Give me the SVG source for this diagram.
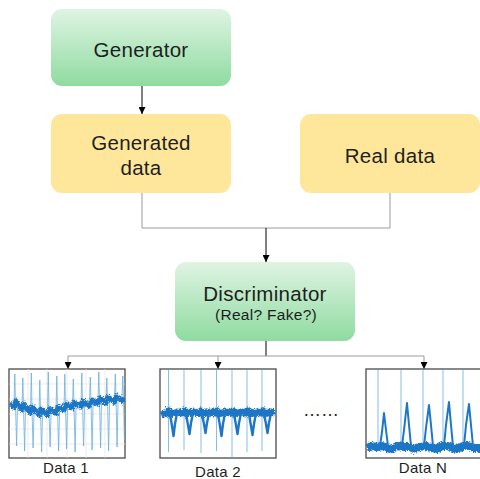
<svg xmlns="http://www.w3.org/2000/svg" width="480" height="479" viewBox="0 0 480 479">
<style>
.t{font-family:"Liberation Sans",Arial,sans-serif;fill:#1e1e1e;text-anchor:middle;letter-spacing:0.3px}
.big{font-size:20.5px}
.sub{font-size:15.5px}
.lbl{font-size:15px}
.box{stroke:none}
.chart{fill:#fff;stroke:#4a4a4a;stroke-width:1.3}
.grid{stroke:#e4e4e4;stroke-width:0.7;fill:none}
.spk{stroke:#6aaee2;stroke-width:0.9;fill:none;opacity:0.9}
.band{stroke:#1f76c6;fill:none;stroke-linejoin:round}
.bl{stroke:#000;stroke-width:1;fill:none}
.gl{stroke:#9a9a9a;stroke-width:1;fill:none}
</style>
<defs>
<linearGradient id="gg" x1="0" y1="0" x2="0" y2="1">
<stop offset="0" stop-color="#dff4e3"/>
<stop offset="1" stop-color="#8fdba0"/>
</linearGradient>
<marker id="ah" viewBox="0 0 8 8" refX="8" refY="4" markerWidth="7" markerHeight="7" markerUnits="userSpaceOnUse" orient="auto">
<path d="M0,0 L8,4 L0,8 Z" fill="#000"/>
</marker>
<filter id="nz" filterUnits="userSpaceOnUse" x="0" y="360" width="480" height="110">
<feTurbulence type="fractalNoise" baseFrequency="0.75" numOctaves="2" seed="4" result="n"/>
<feDisplacementMap in="SourceGraphic" in2="n" scale="5" xChannelSelector="R" yChannelSelector="G"/>
</filter>
<clipPath id="c1"><rect x="9" y="369" width="116" height="89"/></clipPath>
<clipPath id="c2"><rect x="160" y="369" width="116" height="89"/></clipPath>
<clipPath id="c3"><rect x="366" y="369" width="116" height="89"/></clipPath>
</defs>

<g id="connectors">
<path class="bl" d="M142,86 V114" marker-end="url(#ah)"/>
<path class="gl" d="M142,193 V228 H390 V193"/>
<path class="bl" d="M266,228 V262" marker-end="url(#ah)"/>
<path class="bl" d="M266,341 V356"/>
<path class="gl" d="M68,356 H424"/>
<path class="gl" d="M68,356 V369" marker-end="url(#ah)"/>
<path class="gl" d="M218,356 V369" marker-end="url(#ah)"/>
<path class="gl" d="M424,356 V369" marker-end="url(#ah)"/>
</g>

<g id="generator">
<rect class="box" x="51" y="9" width="180" height="77" rx="11" fill="url(#gg)"/>
<text class="t big" x="141" y="57">Generator</text>
</g>
<g id="generated-data">
<rect class="box" x="51" y="114" width="180" height="79" rx="11" fill="#fee79b"/>
<text class="t big" x="141" y="150">Generated</text>
<text class="t big" x="141" y="175">data</text>
</g>
<g id="real-data">
<rect class="box" x="300" y="114" width="180" height="79" rx="11" fill="#fee79b"/>
<text class="t big" x="390" y="163">Real data</text>
</g>
<g id="discriminator">
<rect class="box" x="175" y="262" width="180" height="79" rx="11" fill="url(#gg)"/>
<text class="t big" x="265" y="301">Discriminator</text>
<text class="t sub" x="266" y="320">(Real? Fake?)</text>
</g>

<g id="data1">
<rect class="chart" x="9" y="369" width="116" height="89"/>
<g clip-path="url(#c1)">
<path class="grid" d="M28,369V458M47,369V458M67,369V458M86,369V458M105,369V458M9,384H125M9,399H125M9,414H125M9,429H125M9,444H125"/>
<path class="spk" d="M14,405 L14.8,374 L15.6,407 L16.6,446 L17.6,403 M22,408 L22.8,378 L23.6,410 L24.6,451 L25.6,406 M30.5,411 L31.3,373 L32.1,413 L33.1,448 L34.1,409 M39,413 L39.8,380 L40.6,415 L41.6,452 L42.6,411 M47.5,413 L48.3,372 L49.1,415 L50.1,447 L51.1,411 M56,411 L56.8,376 L57.6,413 L58.6,451 L59.6,409 M64,408 L64.8,374 L65.6,410 L66.6,449 L67.6,406 M72.5,406 L73.3,379 L74.1,408 L75.1,452 L76.1,404 M81,405 L81.8,373 L82.6,407 L83.6,446 L84.6,403 M89.5,404 L90.3,377 L91.1,406 L92.1,450 L93.1,402 M98,402 L98.8,372 L99.6,404 L100.6,448 L101.6,400 M106,401 L106.8,378 L107.6,403 L108.6,451 L109.6,399 M114.5,400 L115.3,374 L116.1,402 L117.1,447 L118.1,398 M122,399 L122.8,376 L123.6,401 L124.4,440"/>
<path class="band" stroke-width="5" filter="url(#nz)" d="M10,404 L14,407 L16,401 L22,410 L24,404 L30.5,413 L32.5,407 L39,415 L41,409 L47.5,415 L49.5,409 L56,413 L58,407 L64,410 L66,404 L72.5,408 L74.5,402 L81,407 L83,401 L89.5,406 L91.5,400 L98,404 L100,398 L106,403 L108,397 L114.5,402 L116.5,396 L122,401 L124.5,398"/>
</g>
<text class="t lbl" x="66" y="473">Data 1</text>
</g>

<g id="data2">
<rect class="chart" x="160" y="369" width="116" height="89"/>
<g clip-path="url(#c2)">
<path class="spk" d="M168.5,370V452M184,370V450M201,370V453M216.5,370V451M232,370V458M247,370V452M262,370V451"/>
<path class="band" stroke-width="7" filter="url(#nz)" d="M161,415 L167,413 L169,411 L171,414 L177,412 L183,413 L185,411 L187,414 L193,412 L199,413 L201,411 L203,414 L209,412 L215,413 L217,411 L219,414 L225,412 L231,413 L233,411 L235,414 L241,412 L246,413 L248,411 L250,414 L256,412 L261,413 L263,411 L265,414 L271,412 L275,413"/>
<path class="band" stroke-width="2.4" d="M170,414 L172,426 L173.5,436 L175,424 L177,413 M186,414 L188,425 L189.5,434 L191,423 L193,413 M202,414 L204,424 L205.5,433 L207,423 L209,413 M218,414 L220,426 L221.5,436 L223,424 L225,413 M234,414 L236,425 L237.5,434 L239,423 L241,413 M249,414 L251,426 L252.5,435 L254,424 L256,413 M264,414 L266,424 L267.5,433 L269,423 L271,413"/>
</g>
<text class="t lbl" x="218" y="476.5">Data 2</text>
</g>

<g id="ellipsis">
<text class="t" style="font-size:18px;letter-spacing:0" x="321" y="416">……</text>
</g>

<g id="dataN">
<rect class="chart" x="366" y="369" width="116" height="89"/>
<g clip-path="url(#c3)">
<path class="spk" d="M378,446V370M401,446V370M423,446V370M443,446V370M463,446V370"/>
<path class="band" stroke-width="8" filter="url(#nz)" d="M367,448 L372,446 L377,447 L382,446 L387,448 L392,449 L397,446 L403,447 L410,447 L414,449 L420,447 L426,446 L432,448 L437,449 L442,446 L447,446 L453,448 L458,449 L463,446 L468,446 L474,448 L481,448"/>
<path class="band" stroke-width="2" stroke="#2f84d0" d="M380,446 L382,432 L384,413 L386,430 L388,446 L390,451 M402,446 L404,430 L407,403 L409,425 L411,446 L413,451 M424,446 L426,428 L429,405 L431,425 L433,446 L435,451 M444,446 L446,425 L449,402 L451,425 L453,446 L455,451 M464,446 L466,425 L469,404 L471,425 L473,446 L475,451"/>
</g>
<text class="t lbl" x="423" y="473">Data N</text>
</g>
</svg>
